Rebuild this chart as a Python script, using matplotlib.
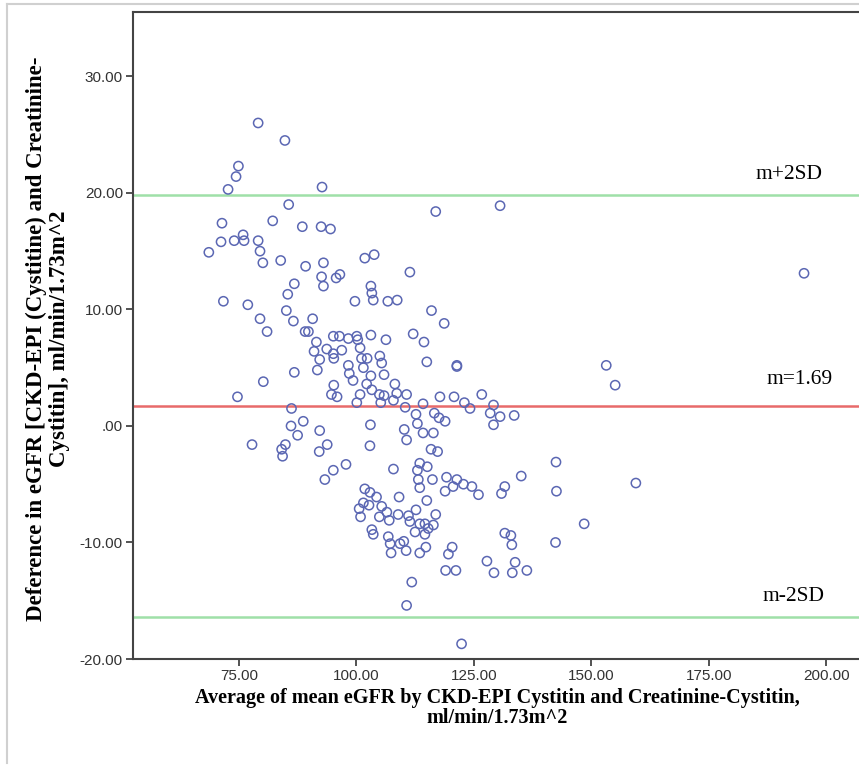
import matplotlib
matplotlib.use("Agg")
import matplotlib.pyplot as plt
from matplotlib.lines import Line2D

# Bland-Altman data
avg_egfr = [
    79.1, 84.8, 74.9, 74.4, 72.7, 85.6, 71.4, 82.2, 88.5, 71.2, 74.0, 75.9, 76.1, 79.1, 79.5,
    68.6, 80.1, 83.9, 89.2, 86.8, 85.4, 71.7, 76.9, 85.1, 79.5, 86.6, 90.7, 81.0, 89.1, 89.8,
    91.5, 91.0, 91.7, 92.2, 86.8, 80.2, 74.7, 86.2, 88.7, 86.1, 87.5, 77.8, 84.9, 84.1, 84.3,
    92.2, 92.1, 92.7, 92.5, 94.5, 101.8, 103.8, 93.0, 111.4, 92.6, 93.0, 95.7, 96.5, 103.1,
    103.3, 103.6, 99.7, 106.7, 108.7, 95.1, 96.4, 93.7, 95.1, 95.2, 96.9, 98.3, 100.1, 100.3,
    100.8, 103.1, 106.3, 112.1, 114.4, 115.0, 101.1, 102.3, 98.3, 98.5, 99.3, 101.5, 103.1,
    105.0, 105.4, 105.9, 108.2, 95.2, 102.2, 94.7, 95.9, 100.8, 100.1, 103.3, 104.9, 105.2,
    105.9, 108.6, 107.9, 110.7, 110.4, 114.2, 112.7, 113.0, 114.2, 110.2, 110.7, 103.0, 102.9,
    93.8, 97.8, 95.1, 93.3, 107.9, 113.5, 113.0, 113.2, 113.5, 115.1, 115.0, 101.8, 102.9,
    104.3, 109.1, 100.6, 101.5, 102.7, 105.4, 100.9, 104.9, 106.5, 107.0, 108.9, 111.1, 111.4,
    112.7, 113.5, 114.6, 112.5, 114.6, 103.3, 103.6, 106.8, 107.2, 109.3, 110.1, 110.6, 107.4,
    113.5, 114.8, 111.8, 110.7, 116.9, 130.6, 116.0, 118.7, 121.4, 121.4, 117.8, 120.8, 123.0,
    124.2, 126.7, 129.2, 128.5, 130.6, 129.2, 133.6, 116.6, 117.6, 118.9, 116.4, 115.9, 117.3,
    116.2, 119.2, 121.4, 120.6, 118.9, 122.8, 124.6, 126.0, 131.6, 130.9, 135.1, 116.9, 116.4,
    115.3, 120.4, 119.6, 131.6, 132.9, 133.1, 127.8, 133.8, 119.0, 121.2, 129.3, 133.2, 136.3,
    122.4, 142.5, 142.6, 142.4, 153.2, 155.1, 159.5, 195.3, 148.5,
]
diff_egfr = [
    26.0, 24.5, 22.3, 21.4, 20.3, 19.0, 17.4, 17.6, 17.1, 15.8, 15.9, 16.4, 15.9, 15.9, 15.0,
    14.9, 14.0, 14.2, 13.7, 12.2, 11.3, 10.7, 10.4, 9.9, 9.2, 9.0, 9.2, 8.1, 8.1, 8.1,
    7.2, 6.4, 4.8, 5.7, 4.6, 3.8, 2.5, 1.5, 0.4, 0.0, -0.8, -1.6, -1.6, -2.0, -2.6,
    -0.4, -2.2, 20.5, 17.1, 16.9, 14.4, 14.7, 14.0, 13.2, 12.8, 12.0, 12.7, 13.0, 12.0,
    11.4, 10.8, 10.7, 10.7, 10.8, 7.7, 7.7, 6.6, 6.2, 5.8, 6.5, 7.5, 7.7, 7.4,
    6.7, 7.8, 7.4, 7.9, 7.2, 5.5, 5.8, 5.8, 5.2, 4.5, 3.9, 5.0, 4.3,
    6.0, 5.4, 4.4, 3.6, 3.5, 3.6, 2.7, 2.5, 2.7, 2.0, 3.1, 2.7, 2.0,
    2.6, 2.8, 2.2, 2.7, 1.6, 1.9, 1.0, 0.2, -0.6, -0.3, -1.2, 0.1, -1.7,
    -1.6, -3.3, -3.8, -4.6, -3.7, -3.2, -3.8, -4.6, -5.3, -3.5, -6.4, -5.4, -5.7,
    -6.1, -6.1, -7.1, -6.6, -6.8, -6.9, -7.8, -7.8, -7.4, -8.1, -7.6, -7.7, -8.2,
    -7.2, -8.4, -8.4, -9.1, -9.3, -8.9, -9.3, -9.5, -10.1, -10.1, -9.9, -10.7, -10.9,
    -10.9, -10.4, -13.4, -15.4, 18.4, 18.9, 9.9, 8.8, 5.2, 5.1, 2.5, 2.5, 2.0,
    1.5, 2.7, 1.8, 1.1, 0.8, 0.1, 0.9, 1.1, 0.7, 0.4, -0.6, -2.0, -2.2,
    -4.6, -4.4, -4.6, -5.2, -5.6, -5.0, -5.2, -5.9, -5.2, -5.8, -4.3, -7.6, -8.5,
    -8.8, -10.4, -11.0, -9.2, -9.4, -10.2, -11.6, -11.7, -12.4, -12.4, -12.6, -12.6, -12.4,
    -18.7, -3.1, -5.6, -10.0, 5.2, 3.5, -4.9, 13.1, -8.4,
]

mean_diff = 1.69
upper_loa = 19.8
lower_loa = -16.4
y_ticks = [-20, -10, 0, 10, 20, 30]
y_tick_labels = ["-20.00", "-10.00", ".00", "10.00", "20.00", "30.00"]
x_ticks = [75, 100, 125, 150, 175, 200]
x_tick_labels = ["75.00", "100.00", "125.00", "150.00", "175.00", "200.00"]

tick_font = ["Liberation Sans Narrow", "Liberation Sans", "DejaVu Sans"]
label_font = ["Liberation Serif", "DejaVu Serif"]

fig = plt.figure(figsize=(8.59, 7.67), dpi=100)
ax = fig.add_axes([0.1545, 0.1408, 0.8455, 0.8432])

ax.scatter(avg_egfr, diff_egfr, s=44, facecolors="none", edgecolors="#5b67b3",
           linewidths=1.1, zorder=3)

ax.axhline(upper_loa, color="#9fe0a8", lw=1.8, zorder=2)
ax.axhline(mean_diff, color="#e86a6a", lw=1.8, zorder=2)
ax.axhline(lower_loa, color="#9fe0a8", lw=1.8, zorder=2)

ax.text(192.0, 21.6, "m+2SD", ha="center", va="center", fontsize=15.5, family=label_font)
ax.text(194.4, 3.95, "m=1.69", ha="center", va="center", fontsize=15.5, family=label_font)
ax.text(193.0, -14.65, "m-2SD", ha="center", va="center", fontsize=15.5, family=label_font)

ax.set_xlim(52.4, 207.0)
ax.set_ylim(-20, 35.5)
ax.set_xticks(x_ticks)
ax.set_xticklabels(x_tick_labels)
ax.set_yticks(y_ticks)
ax.set_yticklabels(y_tick_labels)
for lab in ax.get_xticklabels() + ax.get_yticklabels():
    lab.set_family(tick_font)
    lab.set_fontsize(11)
    lab.set_color("#333333")
ax.tick_params(direction="out", length=5, width=1.3, color="#444444", pad=2)

ax.spines["right"].set_visible(False)
for side in ["left", "bottom", "top"]:
    ax.spines[side].set_color("#444444")
    ax.spines[side].set_linewidth(1.5)

fig.text(497 / 859, 1 - 708 / 767,
         "Average of mean eGFR by CKD-EPI Cystitin and Creatinine-Cystitin,\nml/min/1.73m^2",
         ha="center", va="center", fontsize=14.5, fontweight="bold", family=label_font,
         linespacing=1.0)
fig.text(48 / 859, 1 - 339 / 767,
         "Deference in eGFR [CKD-EPI (Cystitine) and Creatinine-\nCystitin], ml/min/1.73m^2",
         ha="center", va="center", rotation=90, fontsize=16.5, fontweight="bold",
         family=label_font, linespacing=1.1)

# light frame around the chart area
fig.add_artist(Line2D([7 / 859, 7 / 859], [1 - 763 / 767, 1 - 4 / 767],
                      transform=fig.transFigure, color="#d0d0d0", lw=1.5))
fig.add_artist(Line2D([7 / 859, 1], [1 - 4 / 767, 1 - 4 / 767],
                      transform=fig.transFigure, color="#d0d0d0", lw=1.5))

fig.savefig("out.png", dpi=100)
